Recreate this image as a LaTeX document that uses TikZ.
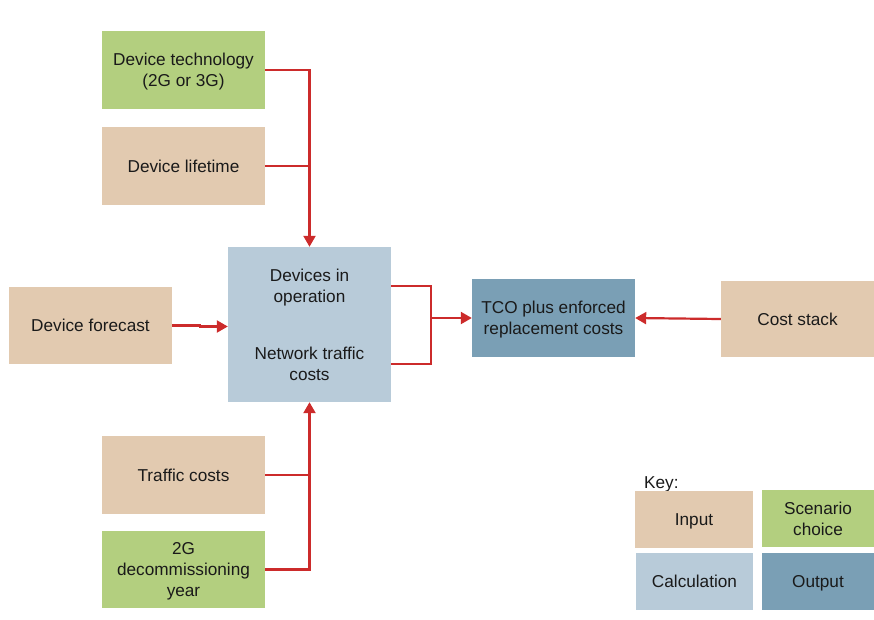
\documentclass[tikz,border=0pt]{standalone}
\usepackage{fontspec}
\setmainfont{Liberation Sans}
\usetikzlibrary{arrows.meta}
\definecolor{cin}{HTML}{E2CAB0}
\definecolor{cscen}{HTML}{B3CF7F}
\definecolor{ccalc}{HTML}{B8CBD9}
\definecolor{cout}{HTML}{7A9FB5}
\definecolor{cred}{HTML}{CC2B2B}
\definecolor{ctxt}{HTML}{1A1A1A}
\tikzset{
  box/.style={minimum width=163pt, minimum height=78pt, inner sep=0pt, align=center,
    font=\fontsize{17.2}{21}\selectfont, text=ctxt, text depth=-2.2pt},
  inbox/.style={box, fill=cin},
  scenbox/.style={box, fill=cscen},
  calcbox/.style={box, fill=ccalc},
  outbox/.style={box, fill=cout},
  conn/.style={draw=cred, line width=2.2pt},
  arr/.style={conn, -{Triangle[length=11pt,width=12pt]}}
}
\begin{document}
\begin{tikzpicture}[x=1pt,y=-1pt]
\useasboundingbox (0,0) rectangle (874,619);
\node[scenbox, text depth=-4.4pt] (tech) at (183.5,70) {Device technology\\(2G or 3G)};
\node[inbox] (life) at (183.5,166) {Device lifetime};
\node[inbox, minimum height=77pt] (forecast) at (90.5,325.5) {Device forecast};
\node[calcbox, minimum height=155pt, text depth=0pt] (calc) at (309.5,324.5) {Devices in\\operation\\[36pt]Network traffic\\costs};
\node[outbox, text depth=-8.4pt] (tco) at (553.5,318) {TCO plus enforced\\replacement costs};
\node[inbox, minimum width=153pt, minimum height=76pt] (cost) at (797.5,319) {Cost stack};
\node[inbox, text depth=0pt] (traffic) at (183.5,475) {Traffic costs};
\node[scenbox, minimum height=77pt, text depth=-5pt] (decom) at (183.5,569.5) {2G\\decommissioning\\year};
\node[anchor=west, inner sep=0pt, font=\fontsize{17.2}{21}\selectfont, text=ctxt] (key) at (644,484) {Key:};
\node[inbox, minimum width=118pt, minimum height=57pt] (kin) at (694,519.5) {Input};
\node[scenbox, minimum width=112pt, minimum height=57pt] (kscen) at (818,518.5) {Scenario\\choice};
\node[calcbox, minimum width=117pt, minimum height=57pt] (kcalc) at (694.5,581.5) {Calculation};
\node[outbox, minimum width=112pt, minimum height=57pt] (kout) at (818,581.5) {Output};
\coordinate (j) at (431,318);
% top inputs
\draw[conn] (life.east) -- (life.east -| calc.north);
\draw[arr] (tech.east) -| (calc.north);
% bottom inputs
\draw[conn] (traffic.east) -- (traffic.east -| calc.south);
\draw[arr] (decom.east) -| (calc.south);
% forecast
\draw[arr] (forecast.east) -- ++(28,0) |- ([yshift=-2pt]calc.west);
% calc to tco
\draw[conn] ([yshift=38.5pt]calc.east) -| (j);
\draw[conn] ([yshift=-39.5pt]calc.east) -| (j);
\draw[arr] (j) -- (tco.west);
% cost stack
\draw[arr] (cost.west) -- (tco.east);
\end{tikzpicture}
\end{document}
